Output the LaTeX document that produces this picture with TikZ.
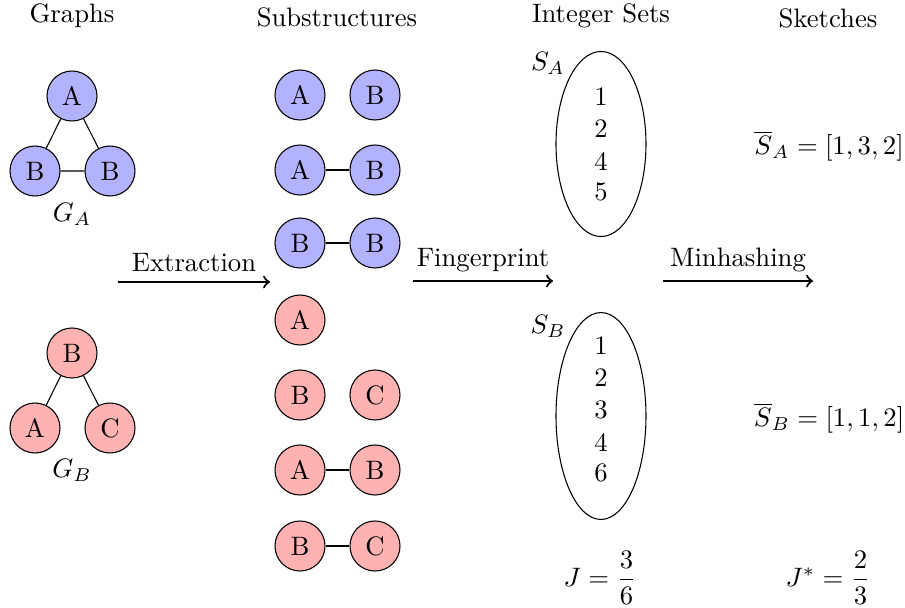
\documentclass[tikz,border=0pt]{standalone}
\usetikzlibrary{shapes.geometric}
\begin{document}
\begin{tikzpicture}[x=0.375pt,y=-0.375pt,
  vtx/.style={circle,draw,minimum size=18.75pt,inner sep=0pt},
  bv/.style={vtx,fill=blue!30},
  rv/.style={vtx,fill=red!30},
  setell/.style={ellipse,draw,minimum width=33.75pt,inner sep=0pt},
  step arrow/.style={->,thick},
  title/.style={inner sep=0pt}]
\useasboundingbox (0,0) rectangle (905,608);
% titles
\node[title] (t1) at (72,16) {Graphs};
\node[title] (t2) at (337,17) {Substructures};
\node[title] (t3) at (601,16) {Integer Sets};
\node[title] (t4) at (828,18) {Sketches};
% graph A
\node[bv] (ga1) at (72,96) {A};
\node[bv] (ga2) at (35,171) {B};
\node[bv] (ga3) at (110,171) {B};
\draw (ga1) -- (ga2) (ga1) -- (ga3) (ga2) -- (ga3);
\node (gal) at (72,214) {$G_A$};
% graph B
\node[rv] (gb1) at (72,353) {B};
\node[rv] (gb2) at (35,428) {A};
\node[rv] (gb3) at (110,428) {C};
\draw (gb1) -- (gb2) (gb1) -- (gb3);
\node (gbl) at (72,470) {$G_B$};
% substructures
\node[bv] (s1a) at (300,95) {A};
\node[bv] (s1b) at (375,95) {B};
\node[bv] (s2a) at (300,170) {A};
\node[bv] (s2b) at (375,170) {B};
\draw (s2a) -- (s2b);
\node[bv] (s3a) at (300,243) {B};
\node[bv] (s3b) at (375,243) {B};
\draw (s3a) -- (s3b);
\node[rv] (s4a) at (300,320) {A};
\node[rv] (s5a) at (300,395) {B};
\node[rv] (s5b) at (375,395) {C};
\node[rv] (s6a) at (300,470) {A};
\node[rv] (s6b) at (375,470) {B};
\draw (s6a) -- (s6b);
\node[rv] (s7a) at (300,546) {B};
\node[rv] (s7b) at (375,546) {C};
\draw (s7a) -- (s7b);
% arrows
\coordinate (e1) at (118,282); \coordinate (e2) at (270,282);
\draw[step arrow] (e1) -- node[midway,anchor=base,yshift=3.9pt] {Extraction} (e2);
\coordinate (f1) at (413,281); \coordinate (f2) at (553,281);
\draw[step arrow] (f1) -- node[midway,anchor=base,yshift=5.6pt] {Fingerprint} (f2);
\coordinate (m1) at (663,281); \coordinate (m2) at (813,281);
\draw[step arrow] (m1) -- node[midway,anchor=base,yshift=5.6pt] {Minhashing} (m2);
% integer sets
\node[setell,minimum height=69.4pt] (sa) at (601,144) {};
\node (sa1) at (601,97) {1};
\node (sa2) at (601,129) {2};
\node (sa3) at (601,161) {4};
\node (sa4) at (601,192) {5};
\node (sal) at (548,63) {$S_A$};
\node[setell,minimum height=77.6pt] (sb) at (601,416) {};
\node (sb1) at (601,346) {1};
\node (sb2) at (601,378) {2};
\node (sb3) at (601,410) {3};
\node (sb4) at (601,442) {4};
\node (sb5) at (601,473) {6};
\node (sbl) at (548,326) {$S_B$};
% sketches
\node (ska) at (829,146) {$\overline{S}_A=[1,3,2]$};
\node (skb) at (829,418) {$\overline{S}_B=[1,1,2]$};
% Jaccard
\node (j1) at (600,578) {$J=\displaystyle\frac{3}{6}$};
\node (j2) at (828,578) {$J^{*}=\displaystyle\frac{2}{3}$};
\end{tikzpicture}
\end{document}
